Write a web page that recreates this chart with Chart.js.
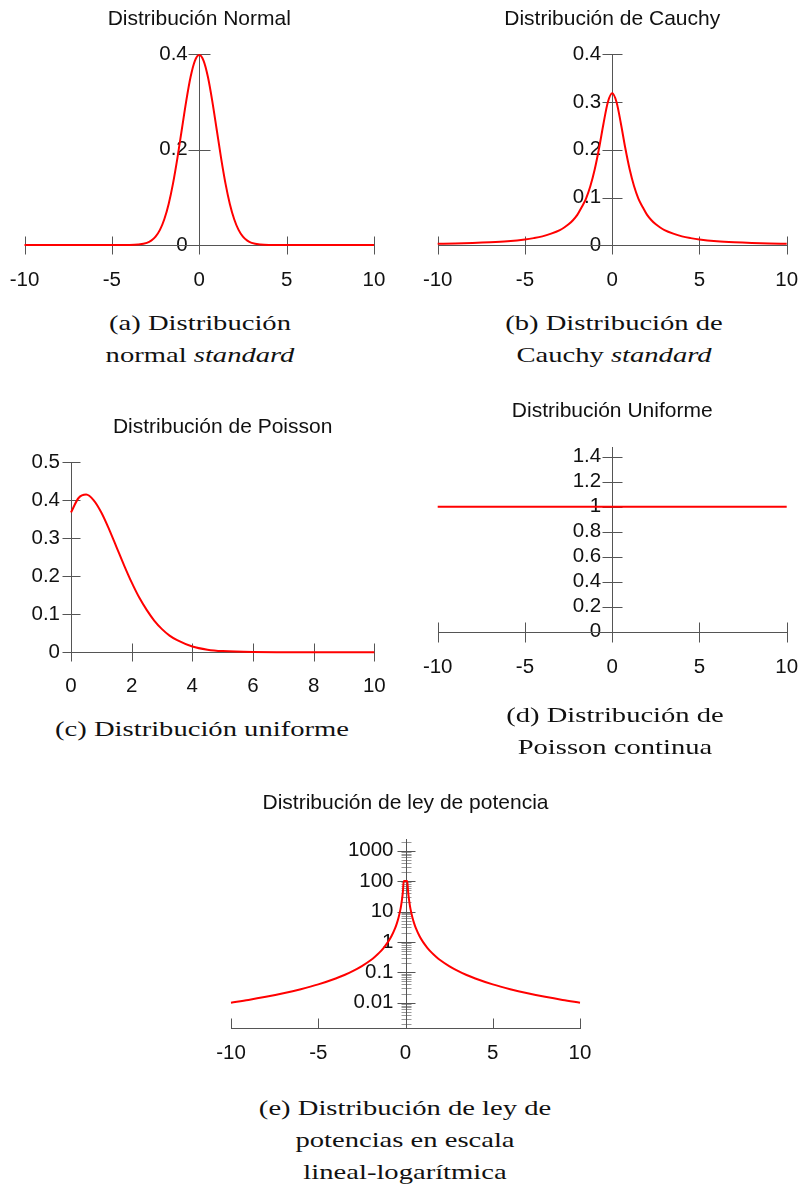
<!DOCTYPE html>
<html>
<head>
<meta charset="utf-8">
<script src="https://cdn.jsdelivr.net/npm/chart.js@4.4.1/dist/chart.umd.min.js"></script>
<style>
  html, body { margin: 0; padding: 0; background: #fff; }
  body { width: 803px; height: 1184px; position: relative; overflow: hidden; }
  canvas { position: absolute; }
  .cap { position: absolute; width: 400px; text-align: center; font-family: "Liberation Serif", serif;
         font-size: 22px; line-height: 32px; color: #111; transform: scaleX(1.3); transform-origin: 50% 50%; white-space: nowrap; }
</style>
</head>
<body>
<canvas id="cA" width="400" height="300" style="left:0px;top:0px"></canvas>
<canvas id="cB" width="403" height="300" style="left:400px;top:0px"></canvas>
<canvas id="cC" width="400" height="310" style="left:0px;top:390px"></canvas>
<canvas id="cD" width="403" height="310" style="left:400px;top:390px"></canvas>
<canvas id="cE" width="420" height="300" style="left:190px;top:780px"></canvas>

<div class="cap" style="left:0px;top:307px">(a) Distribución<br>normal <i>standard</i></div>
<div class="cap" style="left:414px;top:307px">(b) Distribución de<br>Cauchy <i>standard</i></div>
<div class="cap" style="left:2px;top:713px">(c) Distribución uniforme</div>
<div class="cap" style="left:415px;top:699px">(d) Distribución de<br>Poisson continua</div>
<div class="cap" style="left:205px;top:1092px">(e) Distribución de ley de<br>potencias en escala<br>lineal-logarítmica</div>

<script>
// ---------- data ----------
const titles = ['Distribución Normal', 'Distribución de Cauchy', 'Distribución de Poisson',
                'Distribución Uniforme', 'Distribución de ley de potencia'];

const symXTicks = [-10, -5, 0, 5, 10];
const symXLabels = ['-10', '-5', '0', '5', '10'];
const poissonXTicks = [0, 2, 4, 6, 8, 10];
const poissonXLabels = ['0', '2', '4', '6', '8', '10'];

const normalYTicks = [0, 0.2, 0.4];
const normalYLabels = ['0', '0.2', '0.4'];
const cauchyYTicks = [0, 0.1, 0.2, 0.3, 0.4];
const cauchyYLabels = ['0', '0.1', '0.2', '0.3', '0.4'];
const poissonYTicks = [0, 0.1, 0.2, 0.3, 0.4, 0.5];
const poissonYLabels = ['0', '0.1', '0.2', '0.3', '0.4', '0.5'];
const uniformYTicks = [0, 0.2, 0.4, 0.6, 0.8, 1, 1.2, 1.4];
const uniformYLabels = ['0', '0.2', '0.4', '0.6', '0.8', '1', '1.2', '1.4'];
const powerYTicks = [0.01, 0.1, 1, 10, 100, 1000];
const powerYLabels = ['0.01', '0.1', '1', '10', '100', '1000'];

const normalX = [-10, -5, -4, -3.5, -3, -2.75, -2.5, -2.25, -2, -1.75, -1.5, -1.25, -1, -0.75, -0.5, -0.25, 0,
                 0.25, 0.5, 0.75, 1, 1.25, 1.5, 1.75, 2, 2.25, 2.5, 2.75, 3, 3.5, 4, 5, 10];
const normalY = [0, 0, 0.0001, 0.0009, 0.0044, 0.0091, 0.0175, 0.0317, 0.054, 0.0863, 0.1295, 0.1826, 0.242, 0.3011, 0.3521, 0.3867, 0.3989,
                 0.3867, 0.3521, 0.3011, 0.242, 0.1826, 0.1295, 0.0863, 0.054, 0.0317, 0.0175, 0.0091, 0.0044, 0.0009, 0.0001, 0, 0];

const cauchyX = [-10, -9, -8, -7, -6, -5, -4.5, -4, -3.5, -3, -2.75, -2.5, -2.25, -2, -1.75, -1.5, -1.25, -1, -0.75, -0.5, -0.25, 0,
                 0.25, 0.5, 0.75, 1, 1.25, 1.5, 1.75, 2, 2.25, 2.5, 2.75, 3, 3.5, 4, 4.5, 5, 6, 7, 8, 9, 10];
const cauchyY = [0.0032, 0.0039, 0.0049, 0.0064, 0.0086, 0.0122, 0.0150, 0.0187, 0.0244, 0.0318, 0.0372, 0.0439, 0.0525, 0.0637, 0.0798, 0.0979, 0.1241, 0.1592, 0.2037, 0.2546, 0.2996, 0.3183,
                 0.2996, 0.2546, 0.2037, 0.1592, 0.1241, 0.0979, 0.0798, 0.0637, 0.0525, 0.0439, 0.0372, 0.0318, 0.0244, 0.0187, 0.0150, 0.0122, 0.0086, 0.0064, 0.0049, 0.0039, 0.0032];

const poissonX = [0, 0.25, 0.5, 0.75, 1, 1.25, 1.5, 1.75, 2, 2.25, 2.5, 2.75, 3, 3.25, 3.5, 4, 4.5, 5, 6, 7, 8, 9, 10];
const poissonY = [0.368, 0.406, 0.415, 0.400, 0.368, 0.325, 0.277, 0.229, 0.184, 0.144, 0.111, 0.083, 0.061, 0.044, 0.032, 0.0153, 0.0070, 0.0031, 0.0005, 0.0001, 0, 0, 0];

const uniformX = [-10, 10];
const uniformY = [1, 1];

const powerX = [-10, -9, -8, -7, -6, -5, -4, -3.5, -3, -2.5, -2, -1.75, -1.5, -1.25, -1, -0.8, -0.6, -0.5, -0.4, -0.3, -0.25, -0.2, -0.15, -0.1, 0,
                0.1, 0.15, 0.2, 0.25, 0.3, 0.4, 0.5, 0.6, 0.8, 1, 1.25, 1.5, 1.75, 2, 2.5, 3, 3.5, 4, 5, 6, 7, 8, 9, 10];
const powerY = [0.01, 0.0123, 0.0156, 0.0204, 0.0278, 0.04, 0.0625, 0.0816, 0.111, 0.16, 0.25, 0.327, 0.444, 0.64, 1, 1.5625, 2.78, 4, 6.25, 11.1, 16, 25, 44.4, 100, 100,
                100, 44.4, 25, 16, 11.1, 6.25, 4, 2.78, 1.5625, 1, 0.64, 0.444, 0.327, 0.25, 0.16, 0.111, 0.0816, 0.0625, 0.04, 0.0278, 0.0204, 0.0156, 0.0123, 0.01];

// ---------- drawing ----------
const AXIS = '#555';
const TEXT = '#111';
const tickFont = { family: 'Liberation Sans', size: 20.5 };

const crossAxes = {
  id: 'crossAxes',
  beforeDraw(chart, args, o) {
    const items = chart.scales.y.getLabelItems();
    if (!items._shifted) {
      items.forEach(it => { it.options.translation[0] -= o.yLabelGap; });
      items._shifted = true;
    }
  },
  beforeDatasetsDraw(chart, args, o) {
    const ctx = chart.ctx, xs = chart.scales.x, ys = chart.scales.y, ca = chart.chartArea;
    const r = v => Math.round(v) + 0.5;
    const x0 = r(xs.getPixelForValue(o.yAxisAt));
    const y0 = r(ys.getPixelForValue(o.xAxisAt));
    ctx.save();
    ctx.lineWidth = 1;
    ctx.strokeStyle = AXIS;
    const line = (a, b, c, d) => { ctx.beginPath(); ctx.moveTo(a, b); ctx.lineTo(c, d); ctx.stroke(); };
    if (o.minor) {
      ctx.strokeStyle = '#999';
      o.minor.forEach(v => { const py = r(ys.getPixelForValue(v)); line(x0 - o.minorLen, py, x0 + o.minorLen, py); });
      ctx.strokeStyle = AXIS;
    }
    line(Math.round(ca.left), y0, Math.round(ca.right) + 1, y0);
    xs.ticks.forEach(t => { const px = r(xs.getPixelForValue(t.value)); line(px, y0 - o.xUp, px, y0 + o.xDown); });
    line(x0, Math.round(ca.top), x0, Math.round(ca.bottom) + o.yExtend);
    ys.ticks.forEach(t => { const py = r(ys.getPixelForValue(t.value)); line(x0 - o.yLen, py, x0 + o.yLen, py); });
    ctx.restore();
  }
};

function makeChart(id, c) {
  const titleH = c.titleSize * 1.2;
  return new Chart(document.getElementById(id), {
    type: 'line',
    data: {
      datasets: [{
        data: c.xs.map((x, i) => ({ x: x, y: c.ys[i] })),
        borderColor: '#ff0000',
        borderWidth: 2,
        pointRadius: 0,
        fill: false,
        cubicInterpolationMode: 'monotone',
        clip: 6
      }]
    },
    options: {
      responsive: false,
      animation: false,
      devicePixelRatio: 1,
      events: [],
      layout: { padding: { left: c.left, right: c.right, top: c.titleY - titleH / 2, bottom: c.bottom } },
      plugins: {
        legend: { display: false },
        tooltip: { enabled: false },
        title: {
          display: true, text: c.title, color: TEXT,
          font: { family: 'Liberation Sans', size: c.titleSize, weight: 'normal' },
          padding: { top: 0, bottom: c.plotTop - (c.titleY + titleH / 2) }
        },
        crossAxes: c.axes
      },
      scales: {
        x: {
          type: 'linear', min: c.xMin, max: c.xMax,
          position: { y: c.axes.xAxisAt },
          afterFit: s => { s.height = 0; s.paddingLeft = 0; s.paddingRight = 0; s.paddingTop = 0; s.paddingBottom = 0; },
          afterBuildTicks: s => { s.ticks = c.xTicks.map(v => ({ value: v })); },
          ticks: { callback: (v, i) => c.xLabels[i], padding: c.xPad, font: tickFont, color: TEXT,
                   maxRotation: 0, autoSkip: false },
          grid: { display: false, drawTicks: false, tickLength: 0 },
          border: { display: false }
        },
        y: {
          type: c.yType || 'linear', min: c.yMin, max: c.yMax,
          position: { x: c.axes.yAxisAt },
          afterFit: s => { s.width = 0; s.paddingLeft = 0; s.paddingRight = 0; s.paddingTop = 0; s.paddingBottom = 0; },
          afterBuildTicks: s => { s.ticks = c.yTicks.map(v => ({ value: v })); },
          ticks: { callback: (v, i) => c.yLabels[i], padding: 0, font: tickFont, color: TEXT,
                   autoSkip: false },
          grid: { display: false, drawTicks: false, tickLength: 0 },
          border: { display: false }
        }
      }
    },
    plugins: [crossAxes]
  });
}

makeChart('cA', {
  title: titles[0], titleSize: 21, titleY: 19, plotTop: 54.5,
  left: 24.5, right: 400 - 374, bottom: 300 - 245,
  xs: normalX, ys: normalY, xMin: -10, xMax: 10, yMin: 0, yMax: 0.4,
  xTicks: symXTicks, xLabels: symXLabels, yTicks: normalYTicks, yLabels: normalYLabels, xPad: 23,
  axes: { xAxisAt: 0, yAxisAt: 0, xUp: 9, xDown: 9, yLen: 11, yExtend: 8, yLabelGap: 11.5 }
});
makeChart('cB', {
  title: titles[1], titleSize: 21, titleY: 19, plotTop: 54.3,
  left: 37.7, right: 403 - 386.7, bottom: 300 - 245.3,
  xs: cauchyX, ys: cauchyY, xMin: -10, xMax: 10, yMin: 0, yMax: 0.4,
  xTicks: symXTicks, xLabels: symXLabels, yTicks: cauchyYTicks, yLabels: cauchyYLabels, xPad: 23,
  axes: { xAxisAt: 0, yAxisAt: 0, xUp: 9, xDown: 9, yLen: 10, yExtend: 8, yLabelGap: 11 }
});
makeChart('cC', {
  title: titles[2], titleSize: 21, titleY: 427 - 390, plotTop: 462.3 - 390,
  left: 71, right: 400 - 374.3, bottom: 310 - (652.3 - 390),
  xs: poissonX, ys: poissonY, xMin: 0, xMax: 10, yMin: 0, yMax: 0.5,
  xTicks: poissonXTicks, xLabels: poissonXLabels, yTicks: poissonYTicks, yLabels: poissonYLabels, xPad: 22,
  axes: { xAxisAt: 0, yAxisAt: 0, xUp: 9, xDown: 9, yLen: 9, yExtend: 9, yLabelGap: 11 }
});
makeChart('cD', {
  title: titles[3], titleSize: 21, titleY: 411.7 - 390, plotTop: 446.7 - 390,
  left: 37.7, right: 403 - 386.7, bottom: 310 - (631.7 - 390),
  xs: uniformX, ys: uniformY, xMin: -10, xMax: 10, yMin: 0, yMax: 1.48,
  xTicks: symXTicks, xLabels: symXLabels, yTicks: uniformYTicks, yLabels: uniformYLabels, xPad: 23,
  axes: { xAxisAt: 0, yAxisAt: 0, xUp: 10, xDown: 10, yLen: 10, yExtend: 10, yLabelGap: 11 }
});
const powerMinor = [];
[0.001, 0.01, 0.1, 1, 10, 100, 1000].forEach(d => { for (let k = 2; k <= 9; k++) { const v = d * k; if (v > 0.00144 && v < 2370) powerMinor.push(v); } });
makeChart('cE', {
  title: titles[4], titleSize: 21, titleY: 803.3 - 780, plotTop: 839.3 - 780,
  left: 41, right: 420 - 390, bottom: 300 - (1028.3 - 780),
  xs: powerX, ys: powerY, xMin: -10, xMax: 10, yType: 'logarithmic', yMin: 0.00144, yMax: 2370,
  xTicks: symXTicks, xLabels: symXLabels, yTicks: powerYTicks, yLabels: powerYLabels, xPad: 13,
  axes: { xAxisAt: 0.00144, yAxisAt: 0, xUp: 10, xDown: 0, yLen: 9, yExtend: 0, minor: powerMinor, minorLen: 5, yLabelGap: 12 }
});
</script>
</body>
</html>
